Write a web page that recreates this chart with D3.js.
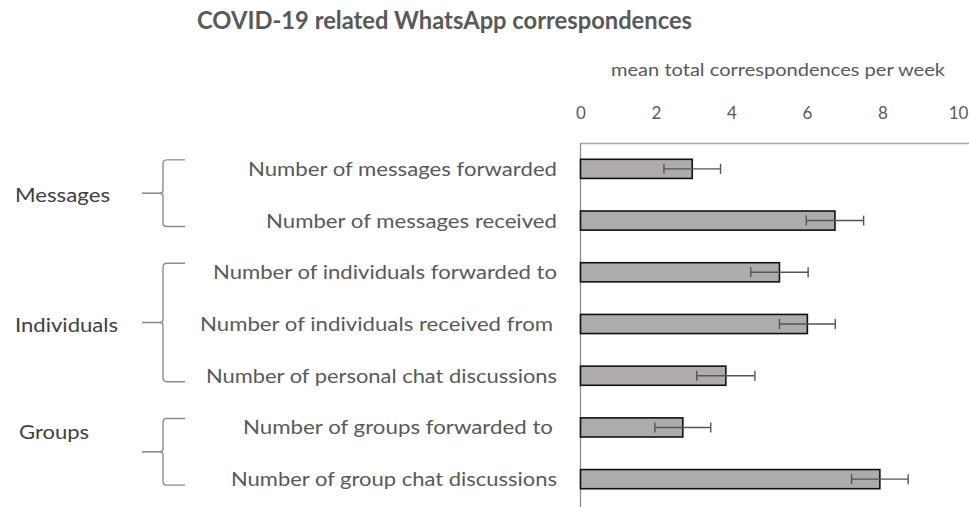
<!DOCTYPE html>
<html><head><meta charset="utf-8">
<script src="https://cdn.jsdelivr.net/npm/d3@7"></script>
<style>html,body{margin:0;padding:0;background:#fff;}svg{display:block;font-family:Lato,"Open Sans",sans-serif;}</style>
</head><body>
<svg id="chart" width="969" height="507"></svg>
<script>
const categories = [
  "Number of messages forwarded",
  "Number of messages received",
  "Number of individuals forwarded to",
  "Number of individuals received from ",
  "Number of personal chat discussions",
  "Number of groups forwarded to ",
  "Number of group chat discussions"
];
const means = [2.96, 6.74, 5.27, 6.01, 3.85, 2.71, 7.93];
const errors = [0.75, 0.76, 0.76, 0.74, 0.77, 0.74, 0.75];
const groupNames = ["Messages", "Individuals", "Groups"];
const groupFirst = [0, 2, 5];
const groupLast = [1, 4, 6];
const xTicks = [0, 2, 4, 6, 8, 10];
const title = "COVID-19 related WhatsApp correspondences";
const xTitle = "mean total correspondences per week";

const svg = d3.select("#chart");
const x = d3.scaleLinear().domain([0, 10]).range([580.5, 958]);
const y = d3.scaleBand().domain(categories).range([143, 505]).paddingInner(0.63).paddingOuter(0.315);

function fit(sel, w){ sel.each(function(){ this.setAttribute("textLength", w); this.setAttribute("lengthAdjust","spacingAndGlyphs"); }); }

// title
svg.append("text").attr("x",197).attr("y",29).attr("font-size",24).attr("font-weight","bold")
  .attr("fill","#595959").text(title).call(fit,495);
svg.append("text").attr("x",611).attr("y",75.5).attr("font-size",16.5)
  .attr("fill","#595959").text(xTitle).call(fit,334);

// axis
const ax = svg.append("g").attr("transform","translate(0,119)")
  .call(d3.axisTop(x).tickValues(xTicks).tickSize(0).tickPadding(0));
ax.select(".domain").remove();
ax.selectAll("text").attr("font-size",17).attr("fill","#595959").attr("font-family","Lato,sans-serif");

// frame lines
svg.append("line").attr("x1",x(0)).attr("x2",969).attr("y1",143.5).attr("y2",143.5).attr("stroke","#a6a6a6").attr("stroke-width",1.3);
svg.append("line").attr("x1",x(0)).attr("x2",x(0)).attr("y1",143).attr("y2",507).attr("stroke","#8c8c8c").attr("stroke-width",1.3);

// bars
svg.append("g").selectAll("rect").data(categories).join("rect")
  .attr("x", x(0)).attr("y", d => y(d))
  .attr("width", (d,i) => x(means[i]) - x(0)).attr("height", y.bandwidth())
  .attr("fill","#afabab").attr("stroke","#111").attr("stroke-width",1.6);

// error bars
const eb = svg.append("g").attr("stroke","#555").attr("stroke-width",1.4);
categories.forEach((d,i) => {
  const cy = y(d) + y.bandwidth()/2;
  const lo = x(means[i]-errors[i]), hi = x(means[i]+errors[i]);
  eb.append("line").attr("x1",lo).attr("x2",hi).attr("y1",cy).attr("y2",cy);
  eb.append("line").attr("x1",lo).attr("x2",lo).attr("y1",cy-5).attr("y2",cy+5);
  eb.append("line").attr("x1",hi).attr("x2",hi).attr("y1",cy-5).attr("y2",cy+5);
});

// category labels
const labelWidths = [309, 291, 344, 353, 351, 310, 326];
svg.append("g").selectAll("text").data(categories).join("text")
  .attr("x", (d,i) => 557 - labelWidths[i] + (d.endsWith(" ") ? -4 : 0))
  .attr("y", d => y(d) + y.bandwidth()/2 + 7)
  .attr("font-size",19.5).attr("fill","#595959")
  .text(d => d.trimEnd())
  .each(function(d,i){ this.setAttribute("textLength", labelWidths[i]); this.setAttribute("lengthAdjust","spacingAndGlyphs"); });

// group braces & labels
const labelDy = [2, 2, -20];
const groupLabelX = [15, 15, 19];
const groupLabelW = [95, 103, 70];
groupNames.forEach((g,k) => {
  const top = y(categories[groupFirst[k]]) + y.bandwidth()/2 - 9;
  const bot = y(categories[groupLast[k]]) + y.bandwidth()/2 + 6;
  const mid = (top + bot)/2;
  const bx = 163, r = 4;
  const p = d3.path();
  p.moveTo(185, top); p.lineTo(bx + r, top); p.quadraticCurveTo(bx, top, bx, top + r);
  p.lineTo(bx, mid - 3); p.quadraticCurveTo(bx, mid, bx - 3, mid);
  p.quadraticCurveTo(bx, mid, bx, mid + 3);
  p.lineTo(bx, bot - r); p.quadraticCurveTo(bx, bot, bx + r, bot); p.lineTo(185, bot);
  svg.append("path").attr("d", p.toString()).attr("fill","none").attr("stroke","#8c8c8c").attr("stroke-width",1.4);
  svg.append("line").attr("x1",142).attr("x2",bx-2).attr("y1",mid).attr("y2",mid).attr("stroke","#8c8c8c").attr("stroke-width",1.6);
  svg.append("text").attr("x",groupLabelX[k]).attr("y",mid + labelDy[k] + 7).attr("font-size",19.5)
    .attr("fill","#404040").text(g).call(fit, groupLabelW[k]);
});
</script>
</body></html>
